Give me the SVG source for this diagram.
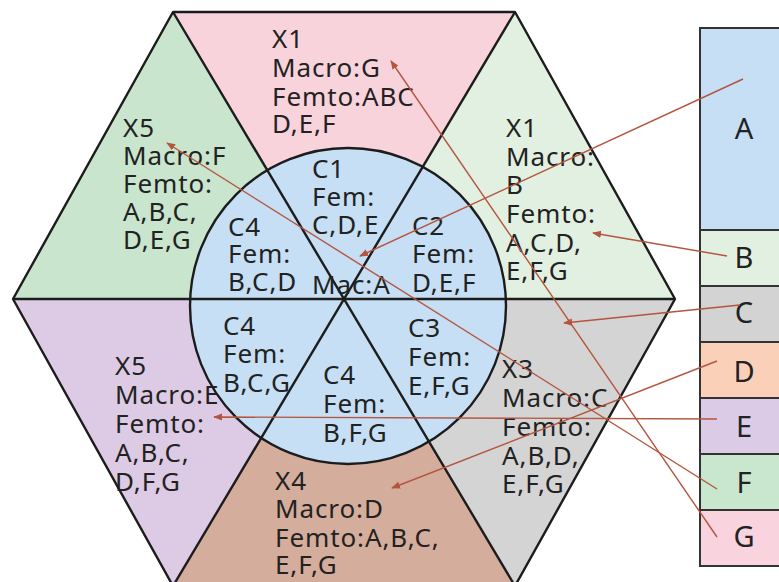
<svg xmlns="http://www.w3.org/2000/svg" width="779" height="582" viewBox="0 0 779 582">
  <style>
    .lbl { font-family: "Noto Sans", "Open Sans", sans-serif; font-size: 26px; fill: #222; letter-spacing: 0.9px; }
    .key { font-family: "Noto Sans", "Open Sans", sans-serif; font-size: 29px; fill: #222; text-anchor: middle; }
    .edge { stroke: #1c1c1c; stroke-width: 2.4; fill: none; stroke-linejoin: round; }
    .box { stroke: #333; stroke-width: 2; }
    .link { stroke: #b4553f; stroke-width: 1.4; fill: none; marker-end: url(#tip); }
  </style>
  <defs>
    <marker id="tip" viewBox="0 0 10 10" refX="9" refY="5" markerWidth="9" markerHeight="9" markerUnits="userSpaceOnUse" orient="auto">
      <path d="M0,1 L10,5 L0,9 z" fill="#b4553f"/>
    </marker>
  </defs>

  <rect width="779" height="582" fill="#ffffff"/>

  <!-- outer hexagon sectors -->
  <g id="sector-top">
    <polygon points="173,12 515,12 344,299" fill="#f8d3dc"/>
  </g>
  <g id="sector-upper-left">
    <polygon points="13,299 173,12 344,299" fill="#c9e5cd"/>
  </g>
  <g id="sector-upper-right">
    <polygon points="515,12 675,299 344,299" fill="#e2f0e1"/>
  </g>
  <g id="sector-lower-right">
    <polygon points="675,299 515,586 344,299" fill="#d4d4d4"/>
  </g>
  <g id="sector-bottom">
    <polygon points="515,586 173,586 344,299" fill="#d5ad9c"/>
  </g>
  <g id="sector-lower-left">
    <polygon points="173,586 13,299 344,299" fill="#ddcbe5"/>
  </g>

  <!-- inner cell circle -->
  <g id="inner-cell">
    <circle cx="348" cy="306" r="158" fill="#c6dff4" stroke="#1c1c1c" stroke-width="2.4"/>
  </g>

  <!-- sector dividers and outline -->
  <g id="dividers">
    <polygon class="edge" points="13,299 173,12 515,12 675,299 515,586 173,586"/>
    <line class="edge" x1="13" y1="299" x2="675" y2="299"/>
    <line class="edge" x1="173" y1="12" x2="515" y2="586"/>
    <line class="edge" x1="515" y1="12" x2="173" y2="586"/>
  </g>

  <!-- sector labels -->
  <g id="label-x1-top">
    <text class="lbl"><tspan x="272" y="48">X1</tspan><tspan x="272" y="77">Macro:G</tspan><tspan x="272" y="106">Femto:ABC</tspan><tspan x="272" y="133">D,E,F</tspan></text>
  </g>
  <g id="label-x5-upper">
    <text class="lbl"><tspan x="123" y="137">X5</tspan><tspan x="123" y="165">Macro:F</tspan><tspan x="123" y="193">Femto:</tspan><tspan x="123" y="221">A,B,C,</tspan><tspan x="123" y="249">D,E,G</tspan></text>
  </g>
  <g id="label-x1-right">
    <text class="lbl"><tspan x="506" y="137">X1</tspan><tspan x="506" y="166">Macro:</tspan><tspan x="506" y="194">B</tspan><tspan x="506" y="223">Femto:</tspan><tspan x="506" y="252">A,C,D,</tspan><tspan x="506" y="280">E,F,G</tspan></text>
  </g>
  <g id="label-x3">
    <text class="lbl"><tspan x="502" y="378">X3</tspan><tspan x="502" y="407">Macro:C</tspan><tspan x="502" y="436">Femto:</tspan><tspan x="502" y="465">A,B,D,</tspan><tspan x="502" y="493">E,F,G</tspan></text>
  </g>
  <g id="label-x4">
    <text class="lbl"><tspan x="275" y="490">X4</tspan><tspan x="275" y="518">Macro:D</tspan><tspan x="275" y="547">Femto:A,B,C,</tspan><tspan x="275" y="574">E,F,G</tspan></text>
  </g>
  <g id="label-x5-lower">
    <text class="lbl"><tspan x="115" y="375">X5</tspan><tspan x="115" y="404">Macro:E</tspan><tspan x="115" y="433">Femto:</tspan><tspan x="115" y="462">A,B,C,</tspan><tspan x="115" y="491">D,F,G</tspan></text>
  </g>

  <!-- inner cell labels -->
  <g id="label-c1">
    <text class="lbl"><tspan x="312" y="178">C1</tspan><tspan x="312" y="206">Fem:</tspan><tspan x="312" y="234">C,D,E</tspan></text>
  </g>
  <g id="label-c4-upper">
    <text class="lbl"><tspan x="228" y="236">C4</tspan><tspan x="228" y="263">Fem:</tspan><tspan x="228" y="291">B,C,D</tspan></text>
  </g>
  <g id="label-mac">
    <text class="lbl" x="312" y="294">Mac:A</text>
  </g>
  <g id="label-c2">
    <text class="lbl"><tspan x="412" y="235">C2</tspan><tspan x="412" y="263">Fem:</tspan><tspan x="412" y="292">D,E,F</tspan></text>
  </g>
  <g id="label-c3">
    <text class="lbl"><tspan x="408" y="337">C3</tspan><tspan x="408" y="366">Fem:</tspan><tspan x="408" y="395">E,F,G</tspan></text>
  </g>
  <g id="label-c4-lower">
    <text class="lbl"><tspan x="223" y="335">C4</tspan><tspan x="223" y="363">Fem:</tspan><tspan x="223" y="392">B,C,G</tspan></text>
  </g>
  <g id="label-c4-bottom">
    <text class="lbl"><tspan x="323" y="384">C4</tspan><tspan x="323" y="413">Fem:</tspan><tspan x="323" y="442">B,F,G</tspan></text>
  </g>

  <!-- colour key -->
  <g id="key-a"><rect class="box" x="700" y="28" width="100" height="202" fill="#c6dff5"/><text class="key" x="744" y="139">A</text></g>
  <g id="key-b"><rect class="box" x="700" y="230" width="100" height="56" fill="#e2f0e1"/><text class="key" x="744" y="268">B</text></g>
  <g id="key-c"><rect class="box" x="700" y="286" width="100" height="56" fill="#d3d3d3"/><text class="key" x="744" y="323">C</text></g>
  <g id="key-d"><rect class="box" x="700" y="342" width="100" height="56" fill="#fbd0b9"/><text class="key" x="744" y="382">D</text></g>
  <g id="key-e"><rect class="box" x="700" y="398" width="100" height="56" fill="#dccbe6"/><text class="key" x="744" y="437">E</text></g>
  <g id="key-f"><rect class="box" x="700" y="454" width="100" height="56" fill="#c9e6cf"/><text class="key" x="744" y="493">F</text></g>
  <g id="key-g"><rect class="box" x="700" y="510" width="100" height="56" fill="#f9d3de"/><text class="key" x="744" y="547">G</text></g>

  <!-- key-to-region connectors -->
  <g id="connectors">
    <line class="link" x1="743" y1="79" x2="360" y2="256"/>
    <line class="link" x1="727" y1="256" x2="593" y2="233"/>
    <line class="link" x1="740" y1="305" x2="564" y2="323"/>
    <line class="link" x1="717" y1="361" x2="392" y2="488"/>
    <line class="link" x1="717" y1="419" x2="214" y2="417"/>
    <line class="link" x1="717" y1="489" x2="167" y2="143"/>
    <line class="link" x1="717" y1="537" x2="391" y2="61"/>
  </g>
</svg>
